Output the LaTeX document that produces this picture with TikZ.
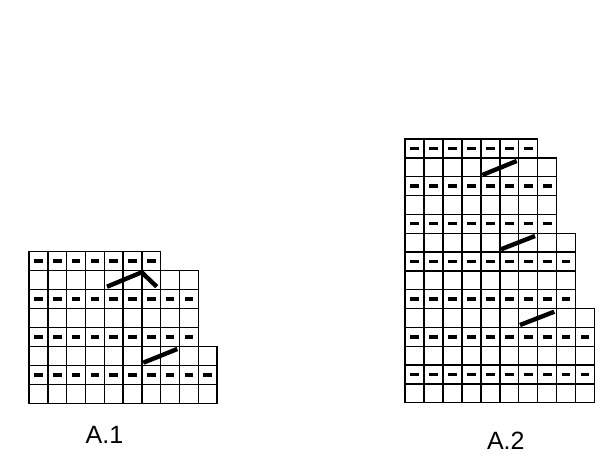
\documentclass[tikz,border=0pt]{standalone}
\usepackage{fontspec}
\setmainfont{Liberation Sans}
\begin{document}
\begin{tikzpicture}[x=1pt,y=-1pt,
  cell/.style={draw=black,line width=1.4pt},
  purl/.style={fill=black},
  cable/.style={line width=4.4pt,line join=miter},
  lbl/.style={font=\fontsize{25}{30}\selectfont,inner sep=0pt}]
\useasboundingbox (0,0) rectangle (600,458);
% A.1
\def\cw{18.8}\def\ch{18.95}
\foreach \w [count=\r] in {7,9,9,9,9,10,10,10} {
  \foreach \c in {1,...,\w} {
    \draw[cell] ({29+(\c-1)*\cw},{251.7+(\r-1)*\ch}) rectangle ++(\cw,\ch);
    \ifodd\r
      \fill[purl] ({29+(\c-0.5)*\cw-4.3},{251.7+(\r-0.5)*\ch-1.7}) rectangle ++(8.6,3.4);
    \fi
  }
}
\coordinate (a1) at (107,286.7);
\coordinate (a2) at (141.7,272.3);
\coordinate (a3) at (156.7,286.7);
\draw[cable] (a1) -- (a2) -- (a3);
\coordinate (b1) at (143.3,362.7);
\coordinate (b2) at (177.3,349);
\draw[cable] (b1) -- (b2);
\node[lbl] (l1) at (104.5,435) {A.1};
% A.2
\foreach \w [count=\r] in {7,8,8,8,8,9,9,9,9,10,10,10,10,10} {
  \foreach \c in {1,...,\w} {
    \draw[cell] ({405+(\c-1)*18.96},{139+(\r-1)*18.84}) rectangle ++(18.96,18.84);
    \ifodd\r
      \fill[purl] ({405+(\c-0.5)*18.96-4.3},{139+(\r-0.5)*18.84-1.7}) rectangle ++(8.6,3.4);
    \fi
  }
}
\coordinate (c1) at (482.3,175);
\coordinate (c2) at (516.7,161);
\draw[cable] (c1) -- (c2);
\coordinate (d1) at (501,249.3);
\coordinate (d2) at (535,236);
\draw[cable] (d1) -- (d2);
\coordinate (e1) at (520,325);
\coordinate (e2) at (554.3,311.7);
\draw[cable] (e1) -- (e2);
\node[lbl] (l2) at (505.8,441) {A.2};
\end{tikzpicture}
\end{document}
